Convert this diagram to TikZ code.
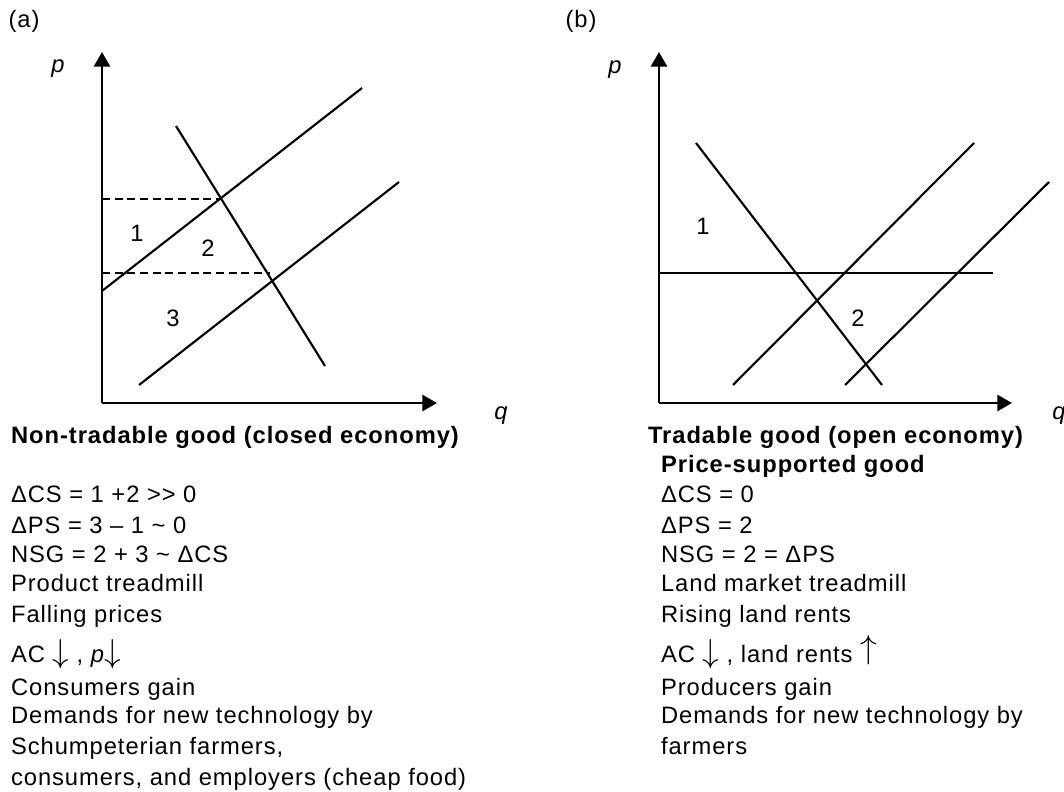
\documentclass[tikz,border=0pt]{standalone}
\usepackage{fontspec}
\setmainfont{Liberation Sans}[LetterSpace=4]
\usetikzlibrary{arrows.meta}
\newcommand\dnarr{{\fontsize{23}{23}\selectfont$\downarrow$}}
\newcommand\uparr{\raisebox{3pt}{\fontsize{23}{23}\selectfont$\uparrow$}}
\tikzset{
  axis/.style={->,line width=2.2pt},
  curve/.style={line width=1.6pt},
  guide/.style={line width=1.2pt,dash pattern=on 6pt off 3.5pt},
  txt/.style={anchor=base west,inner sep=0pt},
  hd/.style={txt,font=\fontsize{17.8}{22}\selectfont\bfseries},
}
\begin{document}
\begin{tikzpicture}[x=.75pt,y=-.75pt,>={Triangle[length=11pt,width=12pt]},line width=1.6pt,font=\fontsize{17.8}{22}\selectfont]
  \useasboundingbox (0,0) rectangle (1064,792);
  % (a) non-tradable good
  \coordinate (oa) at (102,403);
  \coordinate (ea) at (222,199);
  \coordinate (fa) at (270,273);
  \draw[axis] (oa)--(102,52);
  \draw[axis] (oa)--(437,403);
  \draw[curve] (102,291)--(362,88);
  \draw[curve] (139,385)--(399,182);
  \draw[curve] (176,126)--(325,366);
  \draw[guide] (102,199)--(ea);
  \draw[guide] (102,273)--(fa);
  \node (la) at (24,21) {(a)};
  \node (pa) at (58,69) {\itshape p};
  \node (qa) at (501,416) {\itshape q};
  \node (a1) at (137,233) {1};
  \node (a2) at (208,248) {2};
  \node (a3) at (173,318) {3};
  \node[hd] (ta) at (10,443) {Non-tradable good (closed economy)};
  \node[txt] (a4) at (10,502) {ΔCS = 1 +2 >{}> 0};
  \node[txt] (a5) at (10,533) {ΔPS = 3 – 1 \textasciitilde{} 0};
  \node[txt] (a6) at (10,562) {NSG = 2 + 3 \textasciitilde{} ΔCS};
  \node[txt] (a7) at (10,591) {Product treadmill};
  \node[txt] (a8) at (10,622) {Falling prices};
  \node[txt] (a9) at (10,662) {AC \dnarr{} , \textit{p}\dnarr};
  \node[txt] (a10) at (10,695) {Consumers gain};
  \node[txt] (a11) at (10,723) {Demands for new technology by};
  \node[txt] (a12) at (10,754) {Schumpeterian farmers,};
  \node[txt] (a13) at (10,785) {consumers, and employers (cheap food)};
  % (b) tradable good
  \coordinate (ob) at (659,403);
  \draw[axis] (ob)--(659,52);
  \draw[axis] (ob)--(1012,403);
  \draw[line width=1.3pt] (659,273)--(993,273);
  \draw[curve] (696,143)--(882,385);
  \draw[curve] (733,385)--(974,143);
  \draw[curve] (845,385)--(1049,182);
  \node (lb) at (581,21) {(b)};
  \node (pb) at (615,70) {\itshape p};
  \node (qb) at (1059,416) {\itshape q};
  \node (b1) at (703,226) {1};
  \node (b2) at (858,318) {2};
  \node[hd] (tb) at (647,443) {Tradable good (open economy)};
  \node[hd] (tc) at (660,472) {Price-supported good};
  \node[txt] (b4) at (660,502) {ΔCS = 0};
  \node[txt] (b5) at (660,533) {ΔPS = 2};
  \node[txt] (b6) at (660,562) {NSG = 2 = ΔPS};
  \node[txt] (b7) at (660,591) {Land market treadmill};
  \node[txt] (b8) at (660,622) {Rising land rents};
  \node[txt] (b9) at (660,662) {AC \dnarr{} , land rents \uparr};
  \node[txt] (b10) at (660,695) {Producers gain};
  \node[txt] (b11) at (660,723) {Demands for new technology by};
  \node[txt] (b12) at (660,754) {farmers};
\end{tikzpicture}
\end{document}
